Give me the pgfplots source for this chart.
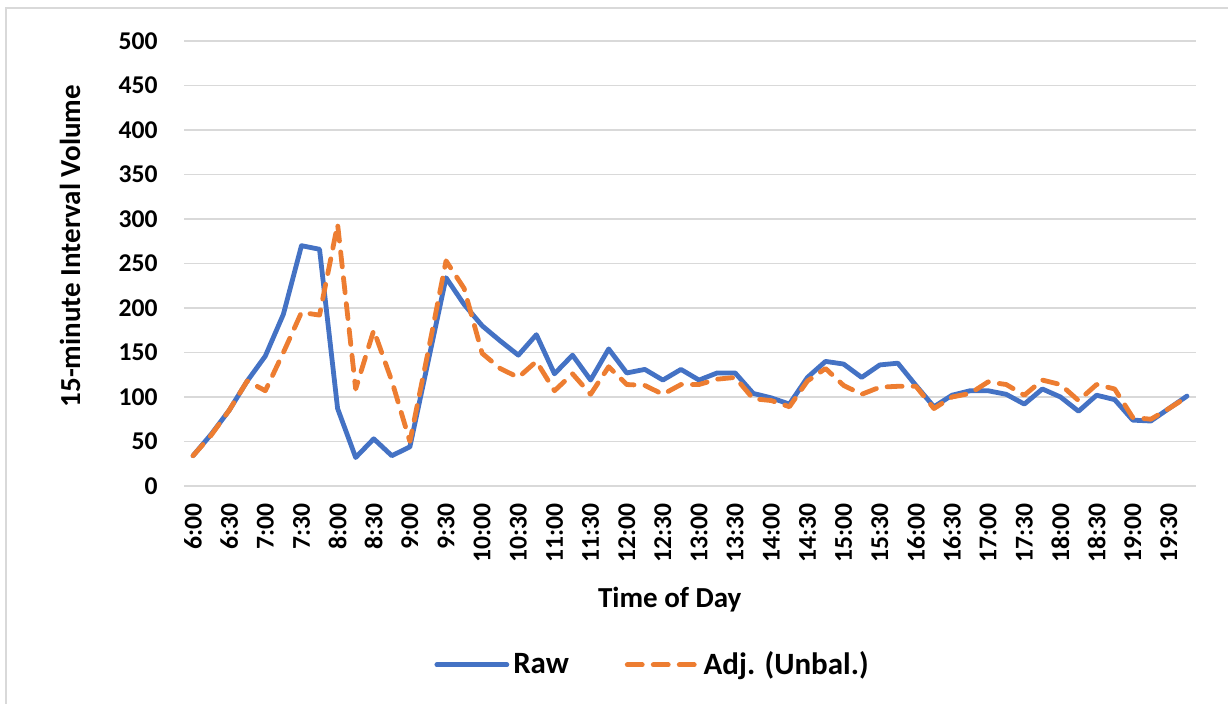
\documentclass[border=0pt]{standalone}
\usepackage{fontspec}
\setmainfont{Carlito}
\usepackage{pgfplots}
\usepackage{pgfplotstable}
\pgfplotsset{compat=1.18}
\definecolor{xlblue}{HTML}{4472C4}
\definecolor{xlorange}{HTML}{ED7D31}
\definecolor{gridgray}{HTML}{D9D9D9}

% 15-minute counts, 6:00 (i=0) to 19:45 (i=55)
\pgfplotstableread{
i raw adj
0 34 34
1 58 57
2 85 85
3 118 118
4 146 107
5 193 150
6 270 195
7 266 192
8 87 294
9 32 109
10 53 175
11 34 118
12 44 50
13 139 150
14 234 253
15 204 222
16 180 149
17 163 132
18 147 122
19 170 140
20 126 107
21 147 126
22 119 103
23 154 134
24 127 114
25 131 113
26 119 103
27 131 114
28 119 114
29 127 120
30 127 122
31 104 98
32 99 96
33 92 89
34 122 118
35 140 132
36 137 113
37 122 103
38 136 111
39 138 112
40 113 112
41 89 87
42 102 100
43 107 104
44 107 117
45 103 114
46 92 102
47 109 119
48 100 114
49 84 96
50 102 114
51 97 109
52 74 77
53 73 75
54 87 87
55 101 100
}\volumes

\begin{document}
\begin{tikzpicture}
\useasboundingbox (0pt,0pt) rectangle (614pt,352pt);
\draw[gridgray, line width=1pt] (3pt,0pt) -- (3pt,348pt) -- (614pt,348pt);
\begin{axis}[
  at={(92pt,109pt)}, anchor=south west,
  scale only axis, width=506pt, height=222.5pt,
  xmin=-0.5, xmax=55.5, ymin=0, ymax=500,
  ytick={0,50,...,500},
  xtick={0,2,...,54},
  xticklabels={6:00,6:30,7:00,7:30,8:00,8:30,9:00,9:30,10:00,10:30,11:00,11:30,12:00,12:30,
    13:00,13:30,14:00,14:30,15:00,15:30,16:00,16:30,17:00,17:30,18:00,18:30,19:00,19:30},
  axis line style={draw=none},
  major tick length=0pt,
  ymajorgrids, grid style={gridgray, line width=0.75pt},
  /pgf/number format/assume math mode=true,
  ticklabel style={font=\fontsize{12.8}{15}\selectfont\bfseries, inner sep=0pt},
  xticklabel style={rotate=90, anchor=east},
  yticklabel style={anchor=east},
  xticklabel shift=8.5pt, yticklabel shift=13pt,
  xlabel={Time of Day}, ylabel={15-minute Interval Volume},
  label style={font=\fontsize{14.5}{17}\selectfont\bfseries},
  xlabel style={at={(axis description cs:0.48,-0.256)}, anchor=center},
  ylabel style={at={(axis description cs:-0.1127,0.539)}, anchor=center, rotate=0},
  legend columns=2,
  legend style={draw=none, at={(0.464,-0.402)}, anchor=center,
    font=\fontsize{15.5}{18}\selectfont\bfseries,
    /tikz/every even column/.append style={column sep=26pt}},
  legend image code/.code={\draw[#1] (0pt,0pt) -- (35pt,0pt);},
]
\addplot[xlblue, line width=2.4pt, line cap=round, line join=round] table[x=i, y=raw] {\volumes};
\addlegendentry{Raw}
\addplot[xlorange, line width=2.4pt, line cap=round, line join=round,
  dash pattern=on 7.5pt off 5.5pt] table[x=i, y=adj] {\volumes};
\addlegendentry{Adj. (Unbal.)}
\end{axis}
\end{tikzpicture}
\end{document}
